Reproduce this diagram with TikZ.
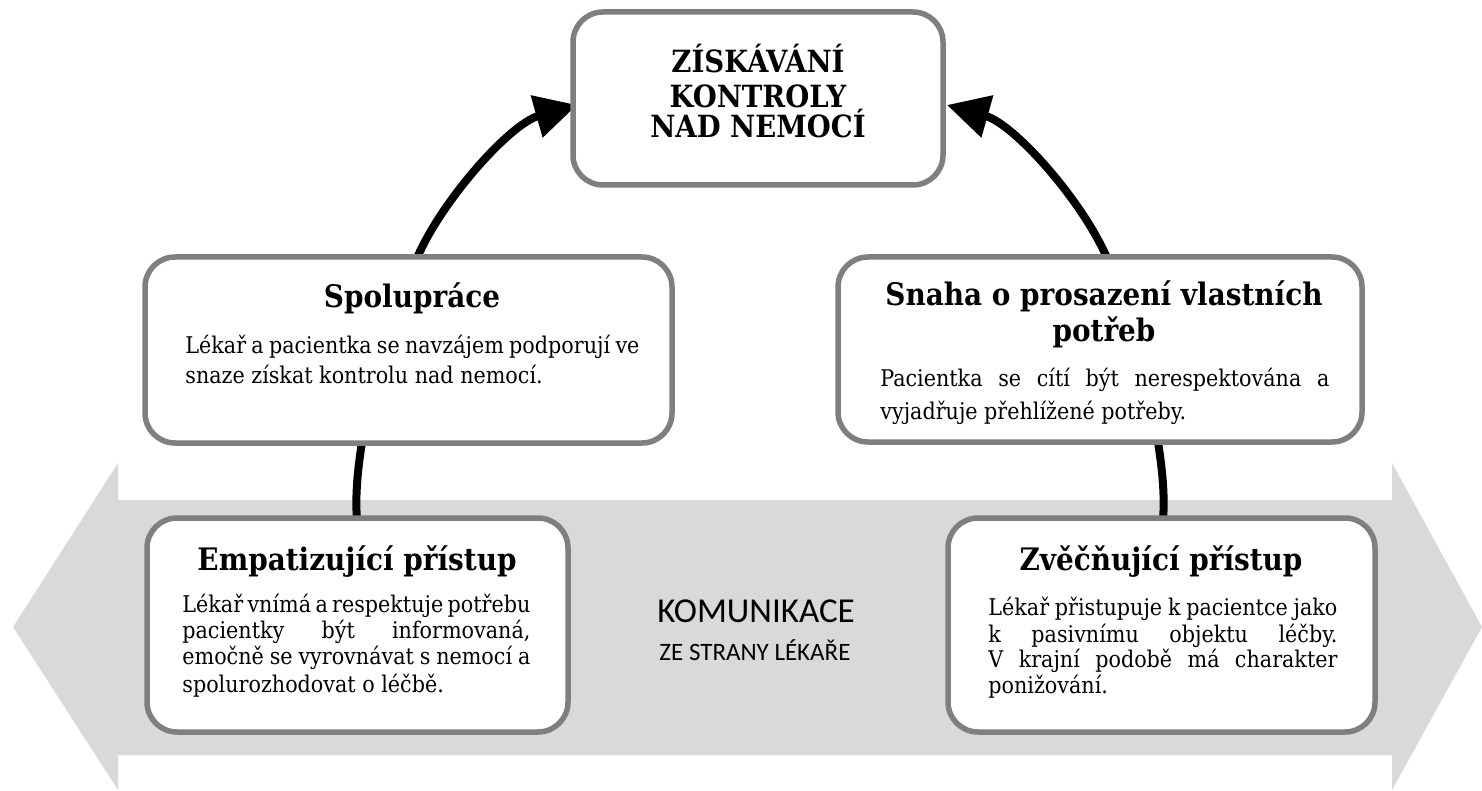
\documentclass[tikz,border=0pt]{standalone}
\usepackage{fontspec}
\setmainfont{DejaVu Serif Condensed}
\newfontfamily\calib{Carlito}
\usetikzlibrary{arrows.meta}
\definecolor{bandgray}{HTML}{D9D9D9}
\definecolor{boxgray}{HTML}{7F7F7F}
\tikzset{
  box/.style={draw=boxgray, line width=2.75pt, rounded corners=15pt, fill=white, rectangle, inner sep=0},
  ttl/.style={font=\fontsize{15.5}{18}\selectfont\bfseries, anchor=base, inner sep=0},
  toptl/.style={font=\fontsize{15.3}{17}\selectfont\bfseries, anchor=base, inner sep=0},
  body/.style={font=\fontsize{11.5}{14}\selectfont, anchor=base west, inner sep=0},
  conn/.style={line width=4pt, black},
  arr/.style={conn, -{Triangle[length=21pt,width=21pt]}},
}
\begin{document}
\begin{tikzpicture}[x=0.5pt,y=-0.5pt]
\useasboundingbox (0,0) rectangle (1482,791);
% double arrow band
\fill[bandgray] (13,627) -- (118,463) -- (118,500) -- (1392,500) -- (1392,463)
  -- (1482,627) -- (1392,790) -- (1392,755) -- (118,755) -- (118,790) -- cycle;
\node[font=\calib\fontsize{17.5}{19}\selectfont, anchor=base, inner sep=0] (kom) at (756,622) {KOMUNIKACE};
\node[font=\calib\fontsize{12.5}{14}\selectfont, anchor=base, inner sep=0] (zes) at (755,660) {ZE STRANY LÉKAŘE};

% connectors (drawn before boxes)
\coordinate (sA) at (417,258);
\coordinate (eA) at (577,105);
\coordinate (sB) at (1107,258);
\coordinate (eB) at (947,105);
\coordinate (l1) at (357,520);
\coordinate (l2) at (362,442);
\coordinate (r1) at (1163,520);
\coordinate (r2) at (1158,442);
\draw[arr] (sA) .. controls (442,200) and (510,124) .. (eA);
\draw[arr] (sB) .. controls (1082,200) and (1014,124) .. (eB);
\draw[conn] (l1) .. controls (355,494) and (358,468) .. (l2);
\draw[conn] (r1) .. controls (1165,494) and (1162,468) .. (r2);

% boxes
\node[box, minimum width=185pt, minimum height=86.5pt] (top) at (758,98.5) {};
\node[box, minimum width=263.5pt, minimum height=93pt] (spol) at (408.5,350) {};
\node[box, minimum width=262pt, minimum height=92.5pt] (snaha) at (1100,349.5) {};
\node[box, minimum width=210.5pt, minimum height=107pt] (emp) at (357.5,625) {};
\node[box, minimum width=213.5pt, minimum height=107pt] (zvec) at (1161.5,625) {};

% top text
\node[toptl] (t1) at (758,73) {ZÍSKÁVÁNÍ};
\node[toptl] (t2) at (758,108) {KONTROLY};
\node[toptl] (t3) at (758,138) {NAD NEMOCÍ};

% Spoluprace
\node[ttl] (spt) at (412,307) {Spolupráce};
\node[body] (sp1) at (185,353) {\makebox[227pt][s]{Lékař a pacientka se navzájem podporují ve}};
\node[body] (sp2) at (185,383) {snaze získat kontrolu nad nemocí.};

% Snaha
\node[ttl] (snt1) at (1104,305) {Snaha o prosazení vlastních};
\node[ttl] (snt2) at (1104,341) {potřeb};
\node[body] (sn1) at (880,386) {\makebox[224.5pt][s]{Pacientka se cítí být nerespektována a}};
\node[body] (sn2) at (880,419) {vyjadřuje přehlížené potřeby.};

% Empatizujici
\node[ttl] (emt) at (357,570) {Empatizující přístup};
\node[body] (em1) at (182,612) {\makebox[174pt][s]{Lékař vnímá a respektuje potřebu}};
\node[body] (em2) at (182,638) {\makebox[174pt][s]{pacientky být informovaná,}};
\node[body] (em3) at (182,664) {\makebox[174pt][s]{emočně se vyrovnávat s nemocí a}};
\node[body] (em4) at (182,692) {spolurozhodovat o léčbě.};

% Zvecnujici
\node[ttl] (zvt) at (1161,570) {Zvěčňující přístup};
\node[body] (zv1) at (988,615) {\makebox[174.5pt][s]{Lékař přistupuje k pacientce jako}};
\node[body] (zv2) at (988,642) {\makebox[174.5pt][s]{k pasivnímu objektu léčby.}};
\node[body] (zv3) at (988,667) {\makebox[174.5pt][s]{V krajní podobě má charakter}};
\node[body] (zv4) at (988,693) {ponižování.};
\end{tikzpicture}
\end{document}
